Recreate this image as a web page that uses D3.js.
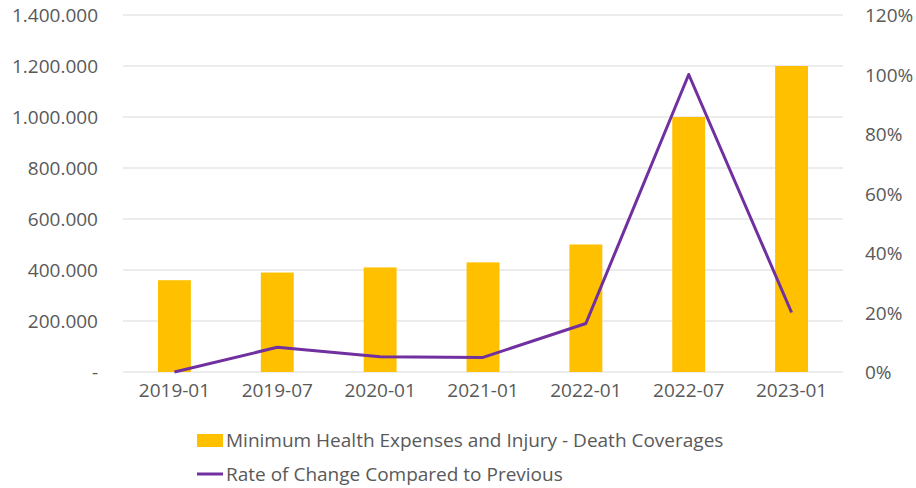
<!DOCTYPE html>
<html>
<head>
<meta charset="utf-8">
<script src="https://cdn.jsdelivr.net/npm/d3@7"></script>
<style>
  html, body { margin: 0; padding: 0; background: #fff; }
  svg { display: block; font-family: "Open Sans", sans-serif; }
</style>
</head>
<body>
<svg id="chart" width="916" height="488"></svg>
<script>
// Semi-annual coverage amounts and their rate of change
const periods = ["2019-01", "2019-07", "2020-01", "2021-01", "2022-01", "2022-07", "2023-01"];
const coverageAmounts = [360000, 390000, 410000, 430000, 500000, 1000000, 1200000];
const changeRates = [0, 0.083, 0.051, 0.049, 0.163, 1.0, 0.2];
const leftTicks = [0, 200000, 400000, 600000, 800000, 1000000, 1200000, 1400000];
const rightTicks = [0, 0.2, 0.4, 0.6, 0.8, 1.0, 1.2];
const legendLabels = ["Minimum Health Expenses and Injury - Death Coverages", "Rate of Change Compared to Previous"];

const barColor = "#FFC000";
const lineColor = "#7030A0";
const textColor = "#595959";
const gridColor = "#D9D9D9";
const fontSize = 19;

const svg = d3.select("#chart");
const plot = { left: 123, right: 843, top: 15, bottom: 372 };

const x = d3.scaleBand().domain(periods).range([plot.left, plot.right]).paddingInner(0.68).paddingOuter(0.34);
const yLeft = d3.scaleLinear().domain([0, 1400000]).range([plot.bottom, plot.top]);
const yRight = d3.scaleLinear().domain([0, 1.2]).range([plot.bottom, plot.top]);

const fmtThousands = d => d === 0 ? "-" : d3.format(",.0f")(d).replace(/,/g, ".");

function styleText(sel) {
  sel.attr("fill", textColor).attr("font-size", fontSize).attr("font-family", "Open Sans");
}

// gridlines
svg.append("g").selectAll("line").data(leftTicks).join("line")
  .attr("x1", plot.left).attr("x2", plot.right)
  .attr("y1", d => yLeft(d)).attr("y2", d => yLeft(d))
  .attr("stroke", gridColor).attr("stroke-width", 1);

// left axis
const leftAxis = svg.append("g")
  .attr("transform", `translate(${plot.left - 25},0)`)
  .call(d3.axisLeft(yLeft).tickValues(leftTicks).tickFormat(fmtThousands).tickSize(0).tickPadding(0));
leftAxis.select(".domain").remove();
leftAxis.selectAll("text").call(styleText).attr("dy", "0.35em");

// right axis
const rightAxis = svg.append("g")
  .attr("transform", `translate(${plot.right + 22},0)`)
  .call(d3.axisRight(yRight).tickValues(rightTicks).tickFormat(d3.format(".0%")).tickSize(0).tickPadding(0));
rightAxis.select(".domain").remove();
rightAxis.selectAll("text").call(styleText).attr("dy", "0.35em");

// bottom axis
const bottomAxis = svg.append("g")
  .attr("transform", `translate(0,${plot.bottom})`)
  .call(d3.axisBottom(x).tickSize(0).tickPadding(18));
bottomAxis.select(".domain").remove();
bottomAxis.selectAll("text").call(styleText).attr("dy", "0.35em");

// bars
svg.append("g").selectAll("rect").data(periods).join("rect")
  .attr("x", d => x(d))
  .attr("width", x.bandwidth())
  .attr("y", (d, i) => yLeft(coverageAmounts[i]))
  .attr("height", (d, i) => yLeft(0) - yLeft(coverageAmounts[i]))
  .attr("fill", barColor);

// rate of change line
const line = d3.line()
  .x((d, i) => x(periods[i]) + x.bandwidth() / 2)
  .y(d => yRight(d));
svg.append("path").datum(changeRates)
  .attr("d", line)
  .attr("fill", "none")
  .attr("stroke", lineColor)
  .attr("stroke-width", 3)
  .attr("stroke-linejoin", "round");

// legend
const legend = svg.append("g").attr("transform", "translate(197,0)");
legend.append("rect").attr("x", 0).attr("y", 434).attr("width", 26).attr("height", 13).attr("fill", barColor);
legend.append("line").attr("x1", 0).attr("x2", 26).attr("y1", 474).attr("y2", 474)
  .attr("stroke", lineColor).attr("stroke-width", 3);
legend.selectAll("text").data(legendLabels).join("text")
  .attr("x", 29)
  .attr("y", (d, i) => 447 + i * 34)
  .call(styleText)
  .text(d => d);
</script>
</body>
</html>
